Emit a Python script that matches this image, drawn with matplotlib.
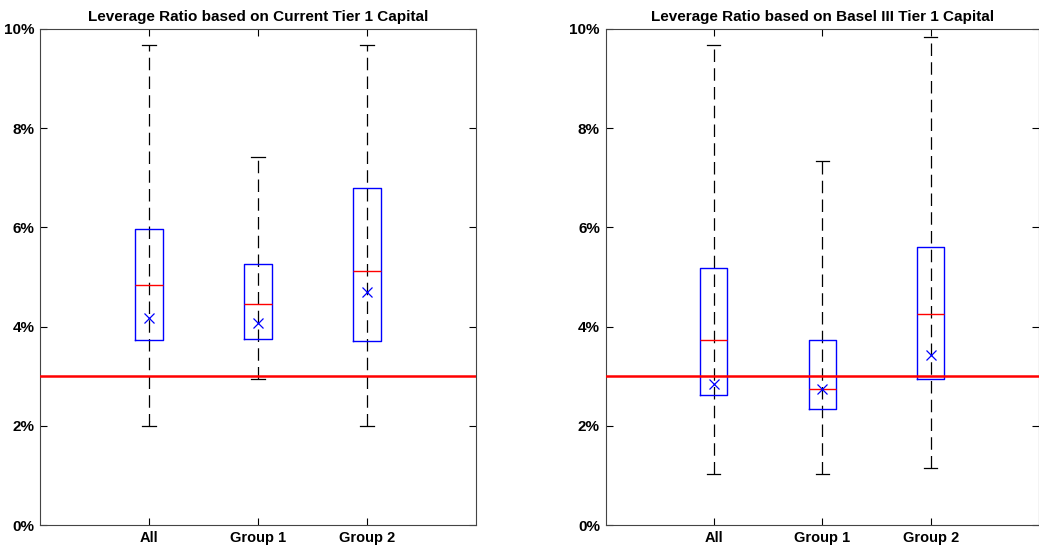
import matplotlib
matplotlib.use('Agg')
import matplotlib.pyplot as plt
from matplotlib.ticker import FuncFormatter

plt.rcParams['font.family'] = ['Liberation Sans', 'DejaVu Sans']
plt.rcParams['font.weight'] = 'bold'

groups = ['All', 'Group 1', 'Group 2']
titles = ['Leverage Ratio based on Current Tier 1 Capital',
          'Leverage Ratio based on Basel III Tier 1 Capital']

# per panel: whisker low, q1, median, q3, whisker high, mean (in %)
cur_lo = [2.00, 2.94, 2.00]
cur_q1 = [3.73, 3.75, 3.71]
cur_med = [4.84, 4.46, 5.12]
cur_q3 = [5.97, 5.26, 6.79]
cur_hi = [9.68, 7.42, 9.68]
cur_mean = [4.17, 4.07, 4.70]

b3_lo = [1.03, 1.03, 1.15]
b3_q1 = [2.62, 2.34, 2.94]
b3_med = [3.73, 2.74, 4.25]
b3_q3 = [5.18, 3.73, 5.60]
b3_hi = [9.68, 7.34, 9.84]
b3_mean = [2.84, 2.74, 3.43]

min_ratio = 3.0

panels = [
    (cur_lo, cur_q1, cur_med, cur_q3, cur_hi, cur_mean),
    (b3_lo, b3_q1, b3_med, b3_q3, b3_hi, b3_mean),
]

fig = plt.figure(figsize=(10.39, 5.49), dpi=100)
rects = [[0.0385, 0.0437, 0.4196, 0.9035], [0.5828, 0.0437, 0.4172, 0.9035]]

for rect, title, (lo, q1, med, q3, hi, mean) in zip(rects, titles, panels):
    ax = fig.add_axes(rect)
    pos = list(range(1, len(groups) + 1))
    stats = []
    for i in range(len(groups)):
        stats.append({'med': med[i], 'q1': q1[i], 'q3': q3[i],
                      'whislo': lo[i], 'whishi': hi[i], 'mean': mean[i],
                      'fliers': [], 'label': groups[i]})
    # one dashed line over the full range, box drawn on top of it
    ax.vlines(pos, lo, hi, colors='black', linestyles=(0, (10, 5)), linewidth=0.9, zorder=1)
    ax.bxp(stats, positions=pos, widths=0.25, showmeans=True, patch_artist=False,
           boxprops=dict(color='blue', linewidth=1.0),
           medianprops=dict(color='red', linewidth=1.0),
           whiskerprops=dict(linestyle='none'),
           capprops=dict(color='black', linewidth=0.9),
           meanprops=dict(marker='x', markeredgecolor='blue', markersize=7, markeredgewidth=0.9),
           capwidths=0.12, manage_ticks=False, zorder=3)
    ax.axhline(min_ratio, color='red', linewidth=1.8, zorder=4)

    ax.set_xlim(0, 4)
    ax.set_ylim(0, 10)
    ax.set_xticks(pos)
    ax.set_xticklabels(groups, fontsize=10.5, fontweight='bold')
    ax.set_yticks([0, 2, 4, 6, 8, 10])
    ax.yaxis.set_major_formatter(FuncFormatter(lambda v, p: f'{v:.0f}%'))
    for lab in ax.get_yticklabels():
        lab.set_fontweight('bold')
        lab.set_fontsize(11)
    ax.tick_params(direction='in', top=True, right=True, length=5, width=0.8, pad=4)
    for s in ax.spines.values():
        s.set_linewidth(0.8)
        s.set_color('#444444')
    ax.set_title(title, fontsize=11, fontweight='bold', pad=6)

fig.savefig('out.png', dpi=100)
